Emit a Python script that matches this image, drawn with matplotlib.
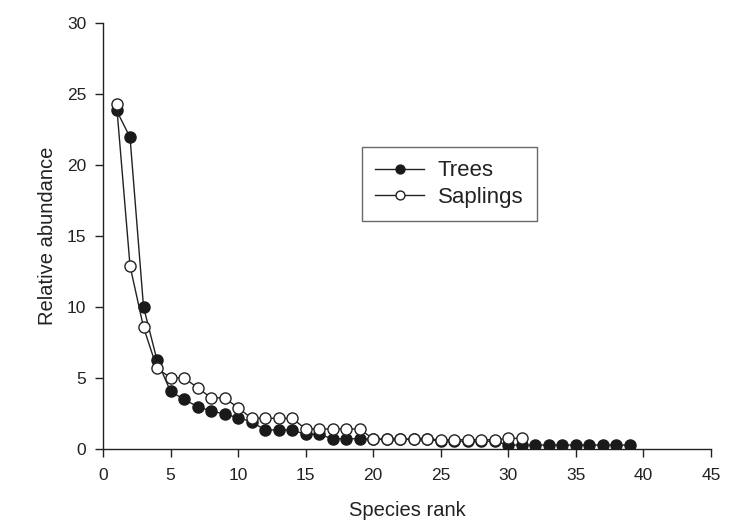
import matplotlib
matplotlib.use("Agg")
import matplotlib.pyplot as plt

plt.rcParams['font.family'] = ['Liberation Sans', 'DejaVu Sans']

trees_rank = list(range(1, 40))
trees = [23.85, 21.95, 10.0, 6.25, 4.05, 3.5, 2.98, 2.68, 2.46, 2.2,
         1.92, 1.34, 1.34, 1.34, 1.03, 1.03, 0.72, 0.72, 0.72, 0.68,
         0.68, 0.68, 0.68, 0.68, 0.55, 0.55, 0.55, 0.55, 0.55, 0.28,
         0.28, 0.28, 0.28, 0.28, 0.28, 0.28, 0.28, 0.28, 0.28]

saplings_rank = list(range(1, 32))
saplings = [24.3, 12.9, 8.57, 5.68, 5.02, 5.0, 4.32, 3.6, 3.6, 2.9,
            2.16, 2.16, 2.16, 2.16, 1.41, 1.41, 1.41, 1.41, 1.41, 0.7,
            0.7, 0.7, 0.7, 0.7, 0.65, 0.65, 0.65, 0.65, 0.65, 0.75, 0.75]

xticks = [0, 5, 10, 15, 20, 25, 30, 35, 40, 45]
yticks = [0, 5, 10, 15, 20, 25, 30]

ink = '#222222'
fig = plt.figure(figsize=(7.44, 5.2), dpi=100)
ax = fig.add_axes([103/744, (520-449)/520, 608/744, 426/520])

ax.plot(trees_rank, trees, '-o', color=ink, lw=1.0, ms=8,
        mfc='#1a1a1a', mec='#1a1a1a', mew=1.0, label='Trees', zorder=3)
ax.plot(saplings_rank, saplings, '-o', color=ink, lw=1.0, ms=8,
        mfc='white', mec=ink, mew=1.0, label='Saplings', zorder=4)

ax.set_xlim(0, 45)
ax.set_ylim(0, 30)
ax.set_xticks(xticks)
ax.set_yticks(yticks)
for s in ['top', 'right']:
    ax.spines[s].set_visible(False)
for s in ['left', 'bottom']:
    ax.spines[s].set_color(ink)
    ax.spines[s].set_linewidth(1.0)
ax.tick_params(direction='out', length=6, width=1.0, colors=ink,
               labelsize=12.5, pad=6)
ax.tick_params(axis='x', pad=8)
ax.set_xlabel('Species rank', fontsize=14.5, color=ink, labelpad=13)
ax.set_ylabel('Relative abundance', fontsize=14.5, color=ink, labelpad=7)

leg = ax.legend(loc='upper left', bbox_to_anchor=((362-103)/608, (449-147)/426),
                fontsize=16, frameon=True, fancybox=False, edgecolor='#444444',
                markerscale=0.8, handlelength=2.2, handletextpad=0.6,
                borderpad=0.6, labelspacing=0.25, borderaxespad=0)
leg.get_frame().set_linewidth(1.0)
for t in leg.get_texts():
    t.set_color(ink)

fig.savefig('out.png', dpi=100)
